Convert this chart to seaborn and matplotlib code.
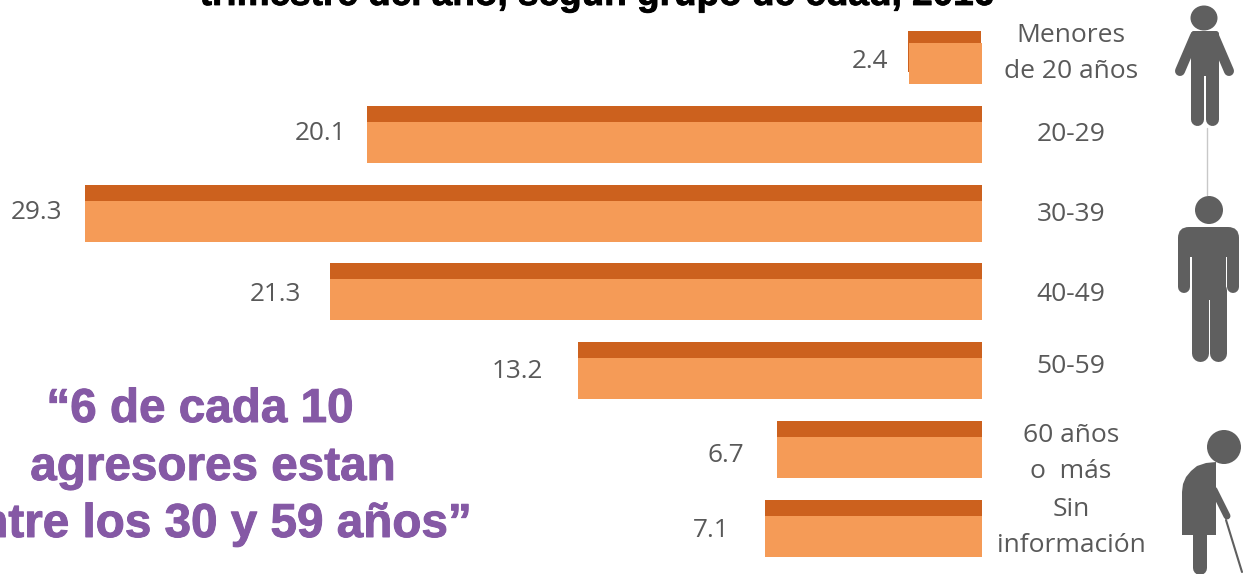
import pandas as pd
import matplotlib.pyplot as plt
import matplotlib.patheffects as pe
import seaborn as sns
from matplotlib.patches import Ellipse, FancyBboxPatch, Polygon, Rectangle

sns.set_style('white')
plt.rcParams['font.family'] = ['Open Sans', 'DejaVu Sans']

# Data
groups = ['Menores\nde 20 años', '20-29', '30-39', '40-49', '50-59', '60 años\no  más', 'Sin\ninformación']
shares = [2.4, 20.1, 29.3, 21.3, 13.2, 6.7, 7.1]
title_text = 'trimestre del año, según grupo de edad, 2016'
quote_lines = ['“6 de cada 10', 'agresores estan', 'entre los 30 y 59 años”']

# Label nudges, in pixels
value_dx = [-39, -46, -49, -55, -61, -51, -54]
value_dy = [2.5, 9.3, 9.1, 5.9, 7.7, 2.5, 6.3]
group_dy = [10, 8, 7, 5, 12, 4, 9]

# Colours
DARK = '#CC611E'
LIGHT = '#F59B57'
GREY = '#595959'
PURPLE = '#8559A5'

W, H = 1246, 574
PX_PER_UNIT = 30.6
STEP = 78.8
FIRST = 63.5
AX_RIGHT = 982

df = pd.DataFrame({'group': groups, 'share': shares})
fig = plt.figure(figsize=(W / 100, H / 100), dpi=100, facecolor='white')


def bar_axes(data, shift_up, color, shift_x=0):
    top = FIRST - STEP / 2 - shift_up
    height = STEP * len(groups)
    right = AX_RIGHT + shift_x
    ax = fig.add_axes([0, 1 - (top + height) / H, right / W, height / H])
    ax.patch.set_alpha(0)
    sns.barplot(data=data, x='share', y='group', color=color, saturation=1,
                width=0.52, linewidth=0, ax=ax)
    ax.set_xlim(right / PX_PER_UNIT, 0)
    ax.set_ylim(len(groups) - 0.5, -0.5)
    ax.set_xlabel('')
    ax.set_ylabel('')
    ax.set_xticks([])
    ax.set_yticks([])
    sns.despine(ax=ax, left=True, bottom=True, right=True, top=True)
    return ax


# Dark strip behind, light bar in front. First strip sits a bit lower than the rest.
first_only = df.assign(share=[v if i == 0 else 0 for i, v in enumerate(shares)])
others = df.assign(share=[0 if i == 0 else v for i, v in enumerate(shares)])
bar_axes(first_only, 12, DARK, shift_x=-1)
bar_axes(others, 16, DARK)
ax = bar_axes(df, 0, LIGHT)

for i, value in enumerate(shares):
    ax.annotate(f'{value:.1f}', xy=(value, i), xytext=(value_dx[i], value_dy[i]),
                textcoords='offset pixels', ha='center', va='center',
                fontsize=18.8, color=GREY, annotation_clip=False)
    ax.annotate(groups[i], xy=(0, i), xytext=(89, group_dy[i]),
                textcoords='offset pixels', ha='center', va='center',
                fontsize=19, color=GREY, linespacing=1.55, annotation_clip=False)

# Overlay in pixel coordinates for title, quote and icons
over = fig.add_axes([0, 0, 1, 1])
over.set_xlim(0, W)
over.set_ylim(H, 0)
over.axis('off')
over.patch.set_alpha(0)

heavy_black = [pe.withStroke(linewidth=0.6, foreground='black')]
heavy_purple = [pe.withStroke(linewidth=0.7, foreground=PURPLE)]

over.text(597, 5, title_text, ha='center', va='baseline', fontsize=26.6,
          fontweight='bold', family='Liberation Sans', color='black',
          path_effects=heavy_black)

over.text(200, 422, quote_lines[0], ha='center', va='baseline', fontsize=34.3,
          fontweight='bold', family='Liberation Sans', color=PURPLE,
          path_effects=heavy_purple)
over.text(213, 480, quote_lines[1], ha='center', va='baseline', fontsize=34.3,
          fontweight='bold', family='Liberation Sans', color=PURPLE,
          path_effects=heavy_purple)
over.text(472, 537, quote_lines[2], ha='right', va='baseline', fontsize=34.3,
          fontweight='bold', family='Liberation Sans', color=PURPLE,
          path_effects=heavy_purple)

ICON = '#5F5F5F'


def limb(x0, y0, x1, y1, width):
    over.plot([x0, x1], [y0, y1], color=ICON, lw=width * 0.72,
              solid_capstyle='round')


def block(x, y, w, h, r=3):
    over.add_patch(FancyBboxPatch((x + r, y + r), w - 2 * r, h - 2 * r,
                                  boxstyle=f'round,pad={r}', fc=ICON, ec='none'))


# Young person
over.add_patch(Ellipse((1204, 18), 27, 25, fc=ICON, ec='none'))
block(1191, 31, 28, 45)
limb(1195, 36, 1180, 71, 10)
limb(1214, 36, 1229, 71, 10)
limb(1197, 70, 1197, 119, 13)
limb(1212, 70, 1212, 119, 13)
over.plot([1207, 1207], [128, 195], color='#C8C8C8', lw=1)

# Adult
over.add_patch(Ellipse((1209, 210), 28, 28, fc=ICON, ec='none'))
block(1178, 227, 61, 30, r=11)
limb(1184, 240, 1184, 287, 12)
limb(1233, 240, 1233, 287, 12)
over.add_patch(Rectangle((1192, 235), 34, 65, fc=ICON, ec='none'))
limb(1200, 290, 1200, 353, 17)
limb(1218, 290, 1218, 353, 17)

# Older person
over.add_patch(Ellipse((1224, 447), 34, 34, fc=ICON, ec='none'))
over.add_patch(Polygon([(1216, 462), (1216, 535), (1182, 535), (1182, 492),
                        (1183, 484), (1186, 477), (1191, 471), (1197, 466),
                        (1206, 463)], fc=ICON, ec='none'))
limb(1200, 530, 1200, 568, 14)
limb(1214, 490, 1227, 516, 7)
over.plot([1226, 1242], [520, 572], color=ICON, lw=1.5)

fig.savefig('out.png', dpi=100)
